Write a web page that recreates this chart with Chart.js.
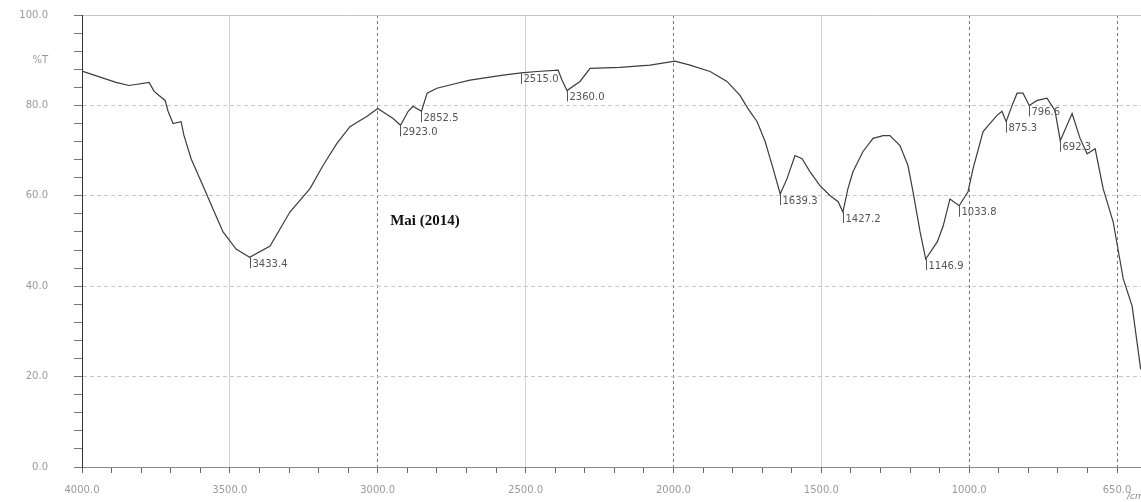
<!DOCTYPE html>
<html>
<head>
<meta charset="utf-8">
<script src="https://cdn.jsdelivr.net/npm/chart.js@4/dist/chart.umd.min.js"></script>
<style>
  html, body { margin: 0; padding: 0; background: #fff; overflow: hidden; }
</style>
</head>
<body>
<canvas id="ir" width="1141" height="502"></canvas>
<script>
// spectrum (wavenumber in 1/cm, transmittance in %T)
const wavenumbers = [4000, 3885, 3841, 3773, 3756, 3719, 3709, 3692, 3665, 3655, 3631, 3591, 3557, 3523, 3479, 3433,
  3364, 3297, 3229, 3185, 3138, 3094, 3036, 3000, 2948, 2923, 2897, 2881, 2852, 2833, 2800, 2732, 2688, 2576, 2515,
  2461, 2390, 2377, 2360, 2316, 2282, 2181, 2079, 1995, 1944, 1876, 1819, 1775, 1748, 1717, 1690, 1663, 1639, 1616,
  1589, 1565, 1538, 1504, 1470, 1443, 1427, 1410, 1393, 1359, 1325, 1291, 1268, 1234, 1207, 1190, 1166, 1147, 1108,
  1088, 1065, 1034, 1004, 987, 953, 906, 889, 875, 855, 838, 818, 797, 770, 737, 710, 692, 652, 625, 601, 574, 547,
  513, 479, 449, 420];
const transmittance = [87.6, 85.1, 84.4, 85.1, 83.1, 81.1, 78.7, 76.0, 76.4, 73.3, 68.2, 62.2, 57.1, 52.0, 48.2, 46.4,
  48.9, 56.4, 61.6, 66.7, 71.6, 75.3, 77.6, 79.3, 77.1, 75.6, 78.7, 79.8, 78.7, 82.7, 83.8, 84.9, 85.6, 86.7, 87.2,
  87.5, 87.8, 85.6, 83.3, 85.3, 88.2, 88.4, 88.9, 89.8, 88.9, 87.5, 85.3, 82.2, 79.3, 76.4, 72.0, 66.0, 60.4, 63.8,
  68.9, 68.2, 65.3, 62.2, 60.0, 58.7, 56.4, 61.6, 65.3, 69.8, 72.7, 73.3, 73.3, 71.1, 66.7, 60.9, 52.0, 46.0, 49.8,
  53.3, 59.3, 57.8, 60.9, 66.0, 74.2, 77.8, 78.7, 76.4, 80.0, 82.7, 82.7, 80.0, 81.1, 81.6, 78.9, 72.2, 78.2, 72.7,
  69.3, 70.4, 61.6, 54.2, 41.6, 35.6, 21.6];

// peak picks printed on the chart
const peakWavenumbers = [3433.4, 2923.0, 2852.5, 2515.0, 2360.0, 1639.3, 1427.2, 1146.9, 1033.8, 875.3, 796.6, 692.3];
const peakTransmittance = [46.4, 75.6, 78.7, 87.2, 83.3, 60.4, 56.4, 46.0, 57.8, 76.4, 80.0, 72.2];

// axis ticks
const xTickValues = [4000, 3500, 3000, 2500, 2000, 1500, 1000, 500];
const xTickLabels = ['4000.0', '3500.0', '3000.0', '2500.0', '2000.0', '1500.0', '1000.0', '650.0'];
const yTickValues = [0, 20, 40, 60, 80, 100];
const yTickLabels = ['0.0', '20.0', '40.0', '60.0', '80.0', '100.0'];

const sampleName = 'Mai (2014)';
const unitLabel = '/cm';

const darkX = [3000, 2000, 1000, 500];

const annotations = {
  id: 'annotations',
  afterDatasetsDraw(chart) {
    const { ctx, scales: { x, y } } = chart;
    ctx.save();
    ctx.font = '10px "DejaVu Sans"';
    ctx.fillStyle = '#555';
    ctx.strokeStyle = '#555';
    ctx.lineWidth = 1;
    ctx.textBaseline = 'middle';
    peakWavenumbers.forEach((w, i) => {
      const px = Math.round(x.getPixelForValue(w)) + 0.5;
      const py = y.getPixelForValue(peakTransmittance[i]);
      ctx.beginPath();
      ctx.moveTo(px, py);
      ctx.lineTo(px, py + 11);
      ctx.stroke();
      ctx.fillText(w.toFixed(1), px + 2, py + 7);
    });

    ctx.font = 'bold 15px "Liberation Serif"';
    ctx.fillStyle = '#111';
    ctx.fillText(sampleName, x.getPixelForValue(2958), y.getPixelForValue(54.4));

    ctx.font = 'italic 9px "DejaVu Sans"';
    ctx.fillStyle = '#888';
    ctx.fillText(unitLabel, 1127, 497);
    ctx.restore();
  }
};

new Chart(document.getElementById('ir'), {
  type: 'line',
  data: {
    datasets: [{
      data: wavenumbers.map((w, i) => ({ x: w, y: transmittance[i] })),
      borderColor: '#3c3c3c',
      borderWidth: 1.2,
      pointRadius: 0,
      tension: 0,
      fill: false
    }]
  },
  options: {
    responsive: false,
    animation: false,
    devicePixelRatio: 1,
    layout: { padding: { top: 15, right: 0, left: 0, bottom: 0 } },
    plugins: { legend: { display: false }, tooltip: { enabled: false } },
    scales: {
      x: {
        type: 'linear',
        reverse: true,
        min: 419,
        max: 4000,
        afterBuildTicks: scale => {
          const ticks = [];
          for (let v = 4000; v >= 500; v -= 100) ticks.push({ value: v });
          scale.ticks = ticks;
        },
        afterFit: scale => {
          scale.height = 35;
          scale.paddingLeft = 0;
          scale.paddingRight = 0;
        },
        ticks: {
          autoSkip: false,
          maxRotation: 0,
          padding: 11,
          color: '#9a9a9a',
          font: { family: 'DejaVu Sans', size: 10 },
          callback: value => {
            const k = xTickValues.indexOf(value);
            return k >= 0 ? xTickLabels[k] : '';
          }
        },
        grid: {
          tickLength: 6,
          tickColor: '#666',
          lineWidth: 1,
          color: ctx => {
            const v = ctx.tick && ctx.tick.value;
            if (darkX.includes(v)) return '#777';
            if (v % 500 === 0 && v < 4000) return '#d2d2d2';
            return 'rgba(0,0,0,0)';
          }
        },
        border: {
          color: '#8a8a8a',
          width: 1,
          dash: ctx => (darkX.includes(ctx.tick && ctx.tick.value) ? [3, 3] : [])
        }
      },
      y: {
        min: 0,
        max: 100,
        afterBuildTicks: scale => {
          const ticks = [];
          for (let v = 0; v <= 100; v += 4) ticks.push({ value: v });
          ticks.push({ value: 90 });
          ticks.sort((a, b) => a.value - b.value);
          scale.ticks = ticks;
        },
        afterFit: scale => {
          scale.width = 82;
          scale.paddingTop = 0;
          scale.paddingBottom = 0;
        },
        ticks: {
          autoSkip: false,
          padding: 26,
          color: '#9a9a9a',
          font: { family: 'DejaVu Sans', size: 10 },
          callback: value => {
            if (value === 90) return '%T';
            const k = yTickValues.indexOf(value);
            return k >= 0 ? yTickLabels[k] : '';
          }
        },
        grid: {
          tickLength: 8,
          lineWidth: 1,
          tickColor: ctx => (ctx.tick && ctx.tick.value === 90 ? 'rgba(0,0,0,0)' : '#777'),
          color: ctx => {
            const v = ctx.tick && ctx.tick.value;
            if (v === 100) return '#c4c4c4';
            if (v % 20 === 0 && v > 0) return '#c8c8c8';
            return 'rgba(0,0,0,0)';
          }
        },
        border: {
          color: '#333',
          width: 1,
          dash: ctx => {
            const v = ctx.tick && ctx.tick.value;
            return v % 20 === 0 && v > 0 && v < 100 ? [4, 3] : [];
          }
        }
      }
    }
  },
  plugins: [annotations]
});
</script>
</body>
</html>
